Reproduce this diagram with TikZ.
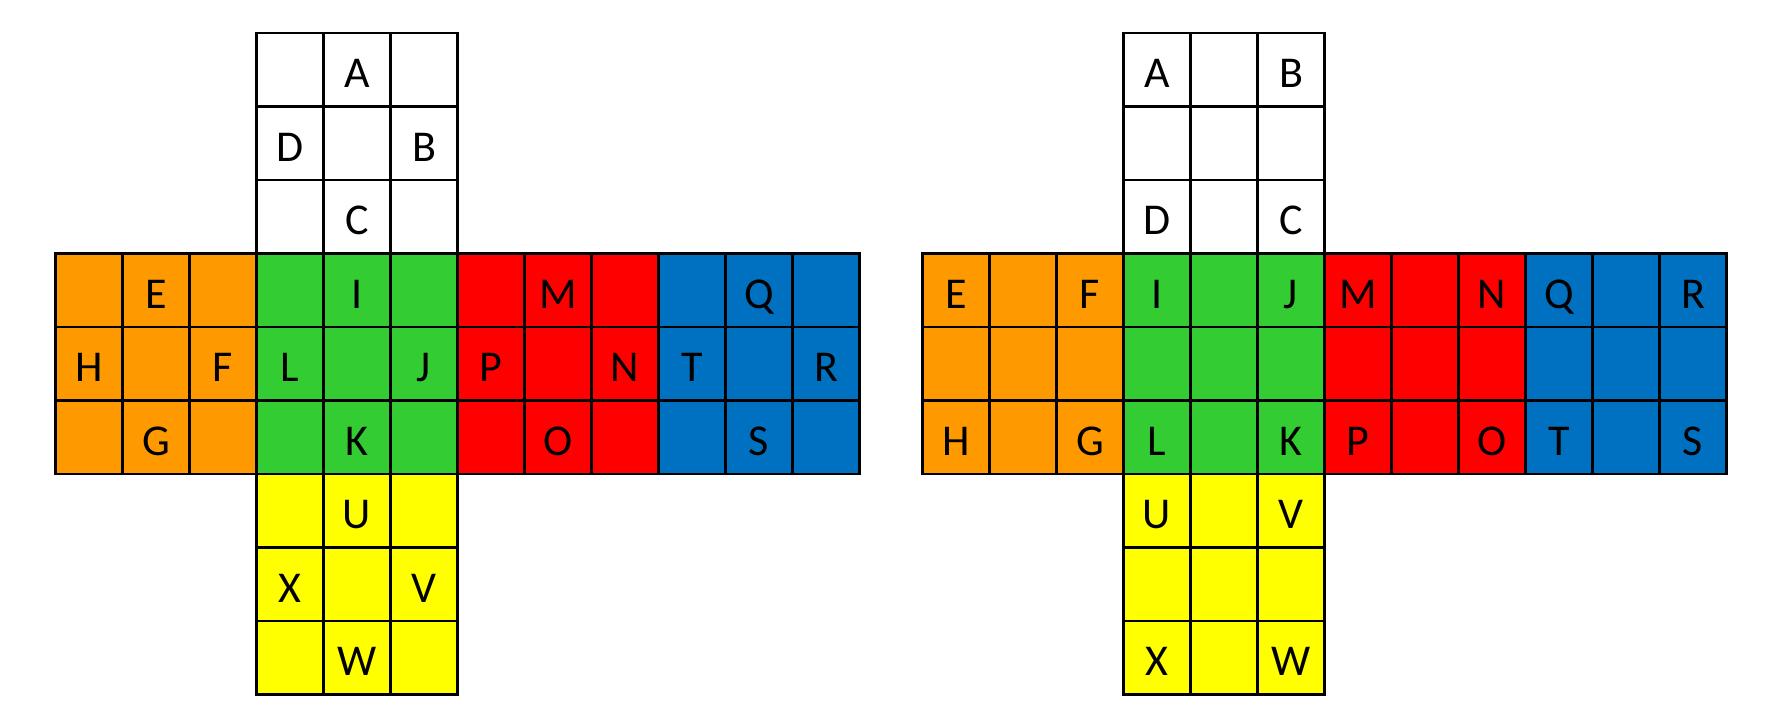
\documentclass[tikz,border=0pt]{standalone}
\usepackage{fontspec}
\setmainfont{Carlito}
\usepackage{tikz}
\definecolor{CubeOrange}{HTML}{FF9900}
\definecolor{CubeGreen}{HTML}{33CC33}
\definecolor{CubeRed}{HTML}{FF0000}
\definecolor{CubeBlue}{HTML}{0070C0}
\definecolor{CubeYellow}{HTML}{FFFF00}

\begin{document}
\begin{tikzpicture}[
  x=0.5pt,y=0.5pt,
  cell/.style={draw,line width=1.3pt,minimum width=33.5pt,minimum height=36.75pt,inner sep=0pt,outer sep=0pt},
  lab/.style={font=\fontsize{22pt}{26pt}\selectfont,text height=14pt,text depth=0pt,inner sep=0pt,yshift=-2pt}
]
\useasboundingbox (0,0) rectangle (1778,724);
% both nets: six faces of 3x3 cells
\foreach \net/\ox in {a/55.5,b/922.5}
  \foreach \f/\col/\row/\clr in {U/3/-3/white,L/0/0/CubeOrange,F/3/0/CubeGreen,R/6/0/CubeRed,B/9/0/CubeBlue,D/3/3/CubeYellow}
    \foreach \i in {0,1,2}
      \foreach \j in {0,1,2}
        \node[cell,fill=\clr] (\net-\f-\i-\j) at ({\ox+(\col+\j+0.5)*67},{470.5-(\row+\i+0.5)*73.5}) {};
% left net: edge letters
\foreach \t/\c in {A/U-0-1,D/U-1-0,B/U-1-2,C/U-2-1,E/L-0-1,H/L-1-0,F/L-1-2,G/L-2-1,
                   I/F-0-1,L/F-1-0,J/F-1-2,K/F-2-1,M/R-0-1,P/R-1-0,N/R-1-2,O/R-2-1,
                   Q/B-0-1,T/B-1-0,R/B-1-2,S/B-2-1,U/D-0-1,X/D-1-0,V/D-1-2,W/D-2-1}
  \node[lab] (a-\t) at (a-\c) {\t};
% right net: corner letters
\foreach \t/\c in {A/U-0-0,B/U-0-2,D/U-2-0,C/U-2-2,E/L-0-0,F/L-0-2,H/L-2-0,G/L-2-2,
                   I/F-0-0,J/F-0-2,L/F-2-0,K/F-2-2,M/R-0-0,N/R-0-2,P/R-2-0,O/R-2-2,
                   Q/B-0-0,R/B-0-2,T/B-2-0,S/B-2-2,U/D-0-0,V/D-0-2,X/D-2-0,W/D-2-2}
  \node[lab] (b-\t) at (b-\c) {\t};
\end{tikzpicture}
\end{document}
